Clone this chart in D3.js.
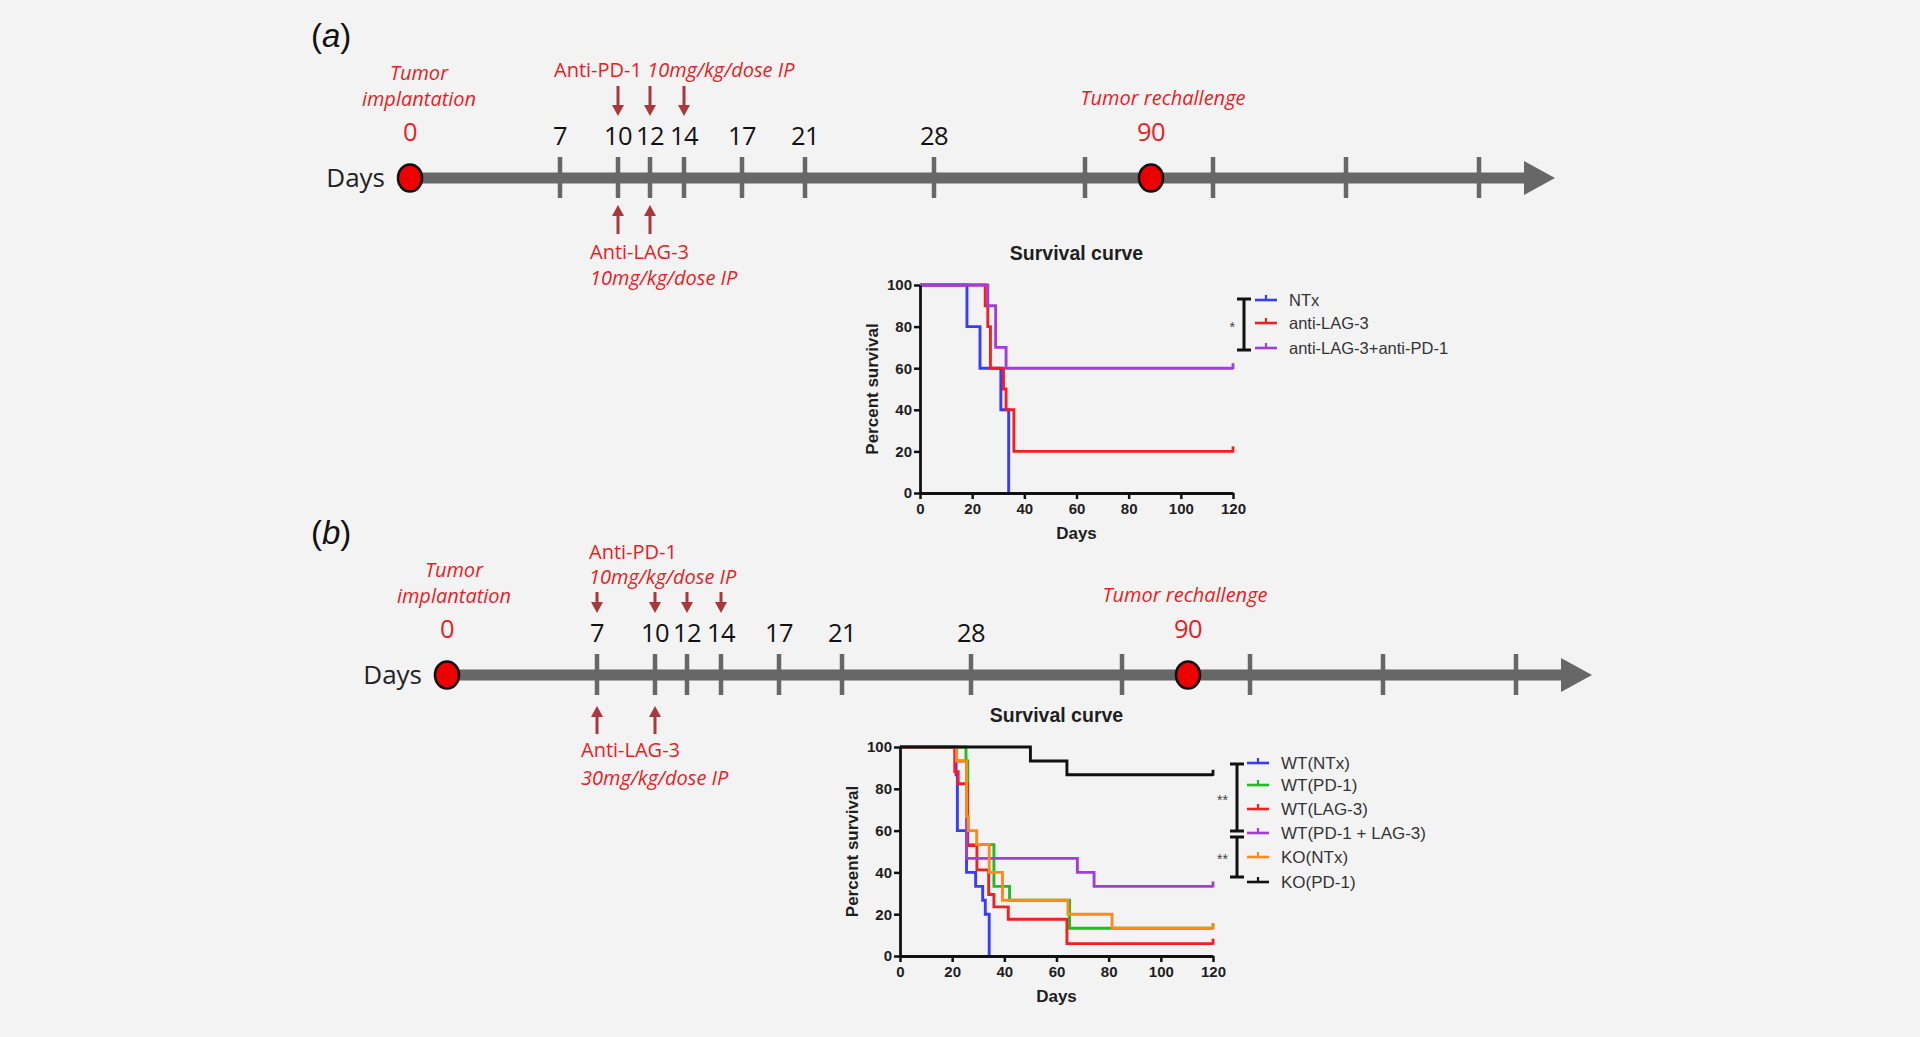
<!DOCTYPE html>
<html><head><meta charset="utf-8">
<script src="https://cdn.jsdelivr.net/npm/d3@7"></script>
<style>
html,body{margin:0;padding:0;background:#f3f3f3;}
svg{display:block;}
</style></head>
<body>
<svg id="c" width="1920" height="1037"></svg>
<script>
// ================= DATA =================
// Timeline tick slots (some slots are unlabeled in the original)
const timelineKeys   = ["d0","d7","d10","d12","d14","d17","d21","d28","t1","d90","t2","t3","t4"];
const timelineLabels = ["0","7","10","12","14","17","21","28","","90","","",""];
const eventKeys = ["d0","d90"];            // implantation & rechallenge (red dots)
const panelA_antiPD1  = ["d10","d12","d14"];
const panelA_antiLAG3 = ["d10","d12"];
const panelB_antiPD1  = ["d7","d10","d12","d14"];
const panelB_antiLAG3 = ["d7","d10"];

const survTicksX = [0,20,40,60,80,100,120];
const survTicksY = [0,20,40,60,80,100];

// Panel (a) survival curves (Kaplan-Meier steps)
const a_names = ["NTx","anti-LAG-3","anti-LAG-3+anti-PD-1"];
const a_NTx_days  = [0,18,23,31,34];
const a_NTx_pct   = [100,80,60,40,0];
const a_LAG3_days = [0,25,26,27,32,33,36,120];
const a_LAG3_pct  = [100,90,80,60,50,40,20,20];
const a_combo_days = [0,26,29,33,120];
const a_combo_pct  = [100,90,70,60,60];

// Panel (b) survival curves
const b_names = ["WT(NTx)","WT(PD-1)","WT(LAG-3)","WT(PD-1 + LAG-3)","KO(NTx)","KO(PD-1)"];
const b_wtNTx_days = [0,21.5,22,25.5,29,31.7,32.7,34.2];
const b_wtNTx_pct  = [100,86.7,60,40,33.3,26.7,20,0];
const b_wtPD1_days = [0,25.3,26,36,42,65,120];
const b_wtPD1_pct  = [100,93.3,53.3,33.3,26.7,13.3,13.3];
const b_wtLAG3_days = [0,21,22.3,25.9,29.5,34,36,41.5,64,120];
const b_wtLAG3_pct  = [100,88.2,82.4,52.9,41.2,29.4,23.5,17.6,5.9,5.9];
const b_wtCombo_days = [0,21.5,25.5,68,74.4,120];
const b_wtCombo_pct  = [100,93.3,46.7,40,33.3,33.3];
const b_koNTx_days = [0,21.7,25.5,26.2,29.4,34.2,39.3,64.4,81.3,120];
const b_koNTx_pct  = [100,93.3,66.7,60,53.3,40,26.7,20,13.3,13.3];
const b_koPD1_days = [0,50,64,120];
const b_koPD1_pct  = [100,93.3,86.7,86.7];

// ================= STYLE / LAYOUT =================
const svg = d3.select("#c");
svg.append("rect").attr("width",1920).attr("height",1037).attr("fill","#f3f3f3");

const RED_TXT = "#ea1c24", ARROW = "#a8383c", GRAY = "#676767";
const TL_FONT = "'Open Sans', sans-serif";
const CH_FONT = "'Liberation Sans', Arial, sans-serif";
const tlPositions = [410,560,618,650,684,742,805,934,1085,1151,1213,1346,1479];

const colA = ["#3b3bff","#f2201f","#a03fd8"];
const colB = ["#3b3bff","#1fbe1f","#f2201f","#a03fd8","#ff8a1c","#111111"];

function zip(d,p){ return d.map((v,i)=>[v,p[i]]); }

// ---------- timeline ----------
function drawTimeline(cfg){
  const g = svg.append("g");
  const tx = d3.scaleOrdinal(timelineKeys, tlPositions.map(p=>p+cfg.dx));
  const y = cfg.y;
  const tip = 1555 + cfg.dx;
  // panel letter
  const pl = g.append("text").attr("x",311).attr("y",cfg.y-131)
    .attr("font-family",CH_FONT).attr("font-size",33).attr("fill","#111");
  pl.append("tspan").text("(");
  pl.append("tspan").attr("font-style","italic").text(cfg.letter);
  pl.append("tspan").text(")");
  // main bar
  g.append("line").attr("x1",tx("d0")).attr("x2",tip-28).attr("y1",y).attr("y2",y)
    .attr("stroke",GRAY).attr("stroke-width",11);
  g.append("path").attr("d",d3.line()([[tip-31,y-17],[tip,y],[tip-31,y+17]])+"Z").attr("fill",GRAY);
  // ticks
  const tickKeys = timelineKeys.filter(k=>!eventKeys.includes(k));
  g.selectAll(".tk").data(tickKeys).join("line")
    .attr("x1",d=>tx(d)).attr("x2",d=>tx(d)).attr("y1",y-21).attr("y2",y+20)
    .attr("stroke",GRAY).attr("stroke-width",4.5);
  // labels
  g.selectAll(".tl").data(timelineKeys.map((k,i)=>({k,l:timelineLabels[i]})).filter(d=>d.l))
    .join("text").attr("x",d=>tx(d.k)).attr("y",d=>eventKeys.includes(d.k)? y-37 : y-33)
    .attr("text-anchor","middle").attr("font-family",TL_FONT).attr("font-size",25.5)
    .attr("letter-spacing",-0.6)
    .attr("fill",d=>eventKeys.includes(d.k)?RED_TXT:"#111").text(d=>d.l);
  // event dots
  g.selectAll(".ev").data(eventKeys).join("ellipse")
    .attr("cx",d=>tx(d)).attr("cy",y).attr("rx",12).attr("ry",13.5)
    .attr("fill","#ec0000").attr("stroke","#111").attr("stroke-width",2.6);
  // "Days"
  g.append("text").attr("x",tx("d0")-25).attr("y",y+9).attr("text-anchor","end")
    .attr("font-family",TL_FONT).attr("font-size",26).attr("fill","#222").text("Days");
  // Tumor implantation
  const ti = g.append("text").attr("font-family",TL_FONT).attr("font-style","italic")
    .attr("font-size",20).attr("fill",RED_TXT).attr("text-anchor","middle");
  ti.append("tspan").attr("x",tx("d0")+cfg.tiDx).attr("y",y-98).text("Tumor");
  ti.append("tspan").attr("x",tx("d0")+cfg.tiDx).attr("y",y-72).text("implantation");
  // Tumor rechallenge
  g.append("text").attr("x",tx("d90")+cfg.trDx).attr("y",y-73).attr("text-anchor","middle")
    .attr("font-family",TL_FONT).attr("font-style","italic").attr("font-size",20)
    .attr("fill",RED_TXT).text("Tumor rechallenge");
  // dose arrows
  cfg.pd1.forEach(k=>{
    const x = tx(k), y1 = cfg.downY[0], y2 = cfg.downY[1];
    g.append("line").attr("x1",x).attr("x2",x).attr("y1",y1).attr("y2",y2-8)
      .attr("stroke",ARROW).attr("stroke-width",3);
    g.append("path").attr("d",d3.line()([[x-6,y2-11],[x+6,y2-11],[x,y2]])+"Z").attr("fill",ARROW);
  });
  cfg.lag3.forEach(k=>{
    const x = tx(k), y1 = cfg.upY[0], y2 = cfg.upY[1];
    g.append("line").attr("x1",x).attr("x2",x).attr("y1",y1+8).attr("y2",y2)
      .attr("stroke",ARROW).attr("stroke-width",3);
    g.append("path").attr("d",d3.line()([[x-6,y1+11],[x+6,y1+11],[x,y1]])+"Z").attr("fill",ARROW);
  });
  // dose texts
  cfg.pd1Text.forEach(t=>{
    const e = g.append("text").attr("x",t.x).attr("y",t.y).attr("font-family",TL_FONT)
      .attr("font-size",20).attr("fill",RED_TXT);
    t.parts.forEach(p=>e.append("tspan").attr("font-style",p.it?"italic":"normal").text(p.s));
  });
}

drawTimeline({letter:"a", y:178, dx:0, tiDx:9, trDx:12,
  pd1:panelA_antiPD1, lag3:panelA_antiLAG3, downY:[86,116], upY:[205,234],
  pd1Text:[
    {x:554,y:77,parts:[{s:"Anti-PD-1 ",it:false},{s:"10mg/kg/dose IP",it:true}]},
    {x:590,y:259,parts:[{s:"Anti-LAG-3",it:false}]},
    {x:590,y:285,parts:[{s:"10mg/kg/dose IP",it:true}]}
  ]});
drawTimeline({letter:"b", y:675, dx:37, tiDx:7, trDx:-3,
  pd1:panelB_antiPD1, lag3:panelB_antiLAG3, downY:[592,613], upY:[706,734],
  pd1Text:[
    {x:589,y:559,parts:[{s:"Anti-PD-1",it:false}]},
    {x:589,y:584,parts:[{s:"10mg/kg/dose IP",it:true}]},
    {x:581,y:757,parts:[{s:"Anti-LAG-3",it:false}]},
    {x:581,y:785,parts:[{s:"30mg/kg/dose IP",it:true}]}
  ]});

// ---------- survival charts ----------
function drawSurvival(cfg){
  const g = svg.append("g");
  const x = d3.scaleLinear().domain([0,120]).range(cfg.xr);
  const y = d3.scaleLinear().domain([0,100]).range(cfg.yr);
  const cx = (cfg.xr[0]+cfg.xr[1])/2;
  // title
  g.append("text").attr("x",cx).attr("y",cfg.yr[1]-32+7).attr("text-anchor","middle")
    .attr("font-family",CH_FONT).attr("font-weight","bold").attr("font-size",19.5)
    .attr("fill","#1e1e1e").text("Survival curve");
  // curves
  const line = d3.line().x(d=>x(d[0])).y(d=>y(d[1])).curve(d3.curveStepAfter);
  cfg.series.forEach((s,i)=>{
    g.append("path").attr("d",line(s)).attr("fill","none").attr("stroke",cfg.colors[i])
      .attr("stroke-width",2.9);
    const last = s[s.length-1];
    if(last[0]===120){
      g.append("line").attr("x1",x(120)).attr("x2",x(120)).attr("y1",y(last[1])+1).attr("y2",y(last[1])-5)
        .attr("stroke",cfg.colors[i]).attr("stroke-width",2.8);
    }
  });
  // axes
  const ax = g.append("g").attr("transform",`translate(0,${cfg.yr[0]})`)
    .call(d3.axisBottom(x).tickValues(survTicksX).tickSize(6).tickSizeOuter(0).tickPadding(4));
  const ay = g.append("g").attr("transform",`translate(${cfg.xr[0]},0)`)
    .call(d3.axisLeft(y).tickValues(survTicksY).tickSize(6).tickSizeOuter(0).tickPadding(2));
  [ax,ay].forEach(a=>{
    a.select(".domain").attr("stroke","#111").attr("stroke-width",2.8);
    a.selectAll(".tick line").attr("stroke","#111").attr("stroke-width",2.5);
    a.selectAll(".tick text").attr("font-family",CH_FONT).attr("font-weight","bold")
      .attr("font-size",15).attr("fill","#1e1e1e");
  });
  // axis titles
  g.append("text").attr("x",cx).attr("y",cfg.yr[0]+40+6).attr("text-anchor","middle")
    .attr("font-family",CH_FONT).attr("font-weight","bold").attr("font-size",17)
    .attr("fill","#1e1e1e").text("Days");
  g.append("text").attr("transform",`translate(${cfg.xr[0]-48},${(cfg.yr[0]+cfg.yr[1])/2}) rotate(-90)`)
    .attr("dy","0.35em").attr("text-anchor","middle")
    .attr("font-family",CH_FONT).attr("font-weight","bold").attr("font-size",17)
    .attr("fill","#1e1e1e").text("Percent survival");
  // legend
  const lg = g.append("g");
  cfg.names.forEach((n,i)=>{
    const ly = cfg.legY[i];
    lg.append("line").attr("x1",cfg.legX).attr("x2",cfg.legX+22).attr("y1",ly).attr("y2",ly)
      .attr("stroke",cfg.colors[i]).attr("stroke-width",2.6);
    lg.append("line").attr("x1",cfg.legX+11).attr("x2",cfg.legX+11).attr("y1",ly).attr("y2",ly-5)
      .attr("stroke",cfg.colors[i]).attr("stroke-width",2.2);
    lg.append("text").attr("x",cfg.legX+34).attr("y",ly).attr("dy","0.35em")
      .attr("font-family",CH_FONT).attr("font-size",cfg.legFont).attr("fill","#333").text(n);
  });
  // significance brackets
  cfg.brackets.forEach(b=>{
    lg.append("line").attr("x1",b.x).attr("x2",b.x).attr("y1",b.y1).attr("y2",b.y2)
      .attr("stroke","#111").attr("stroke-width",3);
    [b.y1,b.y2].forEach(yy=>lg.append("line").attr("x1",b.x-7).attr("x2",b.x+7)
      .attr("y1",yy).attr("y2",yy).attr("stroke","#111").attr("stroke-width",3));
    lg.append("text").attr("x",b.x-9).attr("y",(b.y1+b.y2)/2+7).attr("text-anchor","end")
      .attr("font-family",CH_FONT).attr("font-size",14).attr("fill","#444").text(b.label);
  });
}

const legA = [300,323,348];
drawSurvival({xr:[920,1233], yr:[493,285], colors:colA, names:a_names,
  series:[zip(a_NTx_days,a_NTx_pct), zip(a_LAG3_days,a_LAG3_pct), zip(a_combo_days,a_combo_pct)],
  legX:1255, legY:legA, legFont:16.5,
  brackets:[{x:1244,y1:legA[0]-1,y2:legA[2]+2,label:"*"}]});

const legB = [763,785,809,833,857,882];
drawSurvival({xr:[900,1213], yr:[956,747], colors:colB, names:b_names,
  series:[zip(b_wtNTx_days,b_wtNTx_pct), zip(b_wtPD1_days,b_wtPD1_pct), zip(b_wtLAG3_days,b_wtLAG3_pct),
          zip(b_wtCombo_days,b_wtCombo_pct), zip(b_koNTx_days,b_koNTx_pct), zip(b_koPD1_days,b_koPD1_pct)],
  legX:1247, legY:legB, legFont:17,
  brackets:[{x:1237,y1:legB[0]+1,y2:legB[3]-2,label:"**"},
            {x:1237,y1:legB[3]+4,y2:legB[5]-5,label:"**"}]});
</script>
</body></html>
